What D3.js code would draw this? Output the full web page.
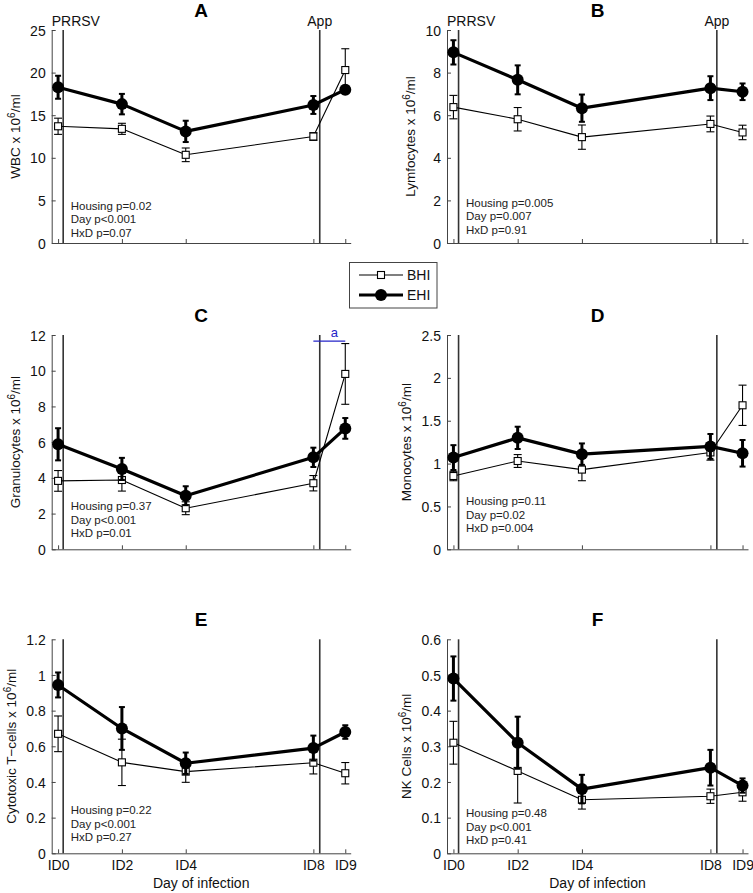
<!DOCTYPE html>
<html>
<head>
<meta charset="utf-8">
<script src="https://cdn.jsdelivr.net/npm/d3@7"></script>
<style>
  html, body { margin: 0; padding: 0; background: #fff; }
  svg { display: block; font-family: "Liberation Sans", Arial, Helvetica, sans-serif; }
</style>
</head>
<body>
<svg id="chart" width="753" height="893"></svg>
<script>
// ---------- DATA ----------
const days = [0, 2, 4, 8, 9];
const dayLabels = ["ID0", "ID2", "ID4", "ID8", "ID9"];
const seriesNames = ["BHI", "EHI"];

// WBC
const wbcBHI = [13.7, 13.4, 10.35, 12.5, 20.3];
const wbcBHIse = [0.95, 0.65, 0.8, 0.45, 2.5];
const wbcEHI = [18.28, 16.3, 13.1, 16.2, 18.0];
const wbcEHIse = [1.35, 1.2, 1.25, 1.05, 0.45];
const wbcTicks = [0, 5, 10, 15, 20, 25];

// Lymfocytes
const lymBHI = [6.38, 5.81, 4.97, 5.59, 5.19];
const lymBHIse = [0.55, 0.55, 0.57, 0.37, 0.34];
const lymEHI = [8.95, 7.66, 6.33, 7.27, 7.1];
const lymEHIse = [0.57, 0.68, 0.64, 0.56, 0.39];
const lymTicks = [0, 2, 4, 6, 8, 10];

// Granulocytes
const graBHI = [3.83, 3.88, 2.3, 3.7, 9.82];
const graBHIse = [0.58, 0.62, 0.36, 0.43, 1.7];
const graEHI = [5.88, 4.5, 3.0, 5.15, 6.77];
const graEHIse = [0.9, 0.62, 0.53, 0.54, 0.58];
const graTicks = [0, 2, 4, 6, 8, 10, 12];

// Monocytes
const monBHI = [0.855, 1.03, 0.93, 1.13, 1.68];
const monBHIse = [0.055, 0.075, 0.13, 0.09, 0.235];
const monEHI = [1.07, 1.30, 1.11, 1.20, 1.12];
const monEHIse = [0.145, 0.13, 0.125, 0.145, 0.155];
const monTicks = [0, 0.5, 1, 1.5, 2, 2.5];

// Cytotoxic T-cells
const cytBHI = [0.67, 0.51, 0.458, 0.508, 0.449];
const cytBHIse = [0.10, 0.13, 0.06, 0.063, 0.06];
const cytEHI = [0.944, 0.70, 0.505, 0.59, 0.68];
const cytEHIse = [0.07, 0.12, 0.06, 0.07, 0.038];
const cytTicks = [0, 0.2, 0.4, 0.6, 0.8, 1, 1.2];

// NK cells
const nkBHI = [0.31, 0.231, 0.15, 0.16, 0.171];
const nkBHIse = [0.06, 0.09, 0.026, 0.02, 0.025];
const nkEHI = [0.49, 0.31, 0.18, 0.24, 0.19];
const nkEHIse = [0.062, 0.073, 0.04, 0.05, 0.02];
const nkTicks = [0, 0.1, 0.2, 0.3, 0.4, 0.5, 0.6];

const panelLetters = ["A", "B", "C", "D", "E", "F"];
const yLabels = ["WBC x 10", "Lymfocytes x 10", "Granulocytes x 10", "Monocytes x 10", "Cytotoxic T\u2212cells x 10", "NK Cells x 10"];
const statsText = [
  ["Housing p=0.02", "Day p<0.001", "HxD p=0.07"],
  ["Housing p=0.005", "Day p=0.007", "HxD p=0.91"],
  ["Housing p=0.37", "Day p<0.001", "HxD p=0.01"],
  ["Housing p=0.11", "Day p=0.02", "HxD p=0.004"],
  ["Housing p=0.22", "Day p<0.001", "HxD p=0.27"],
  ["Housing p=0.48", "Day p<0.001", "HxD p=0.41"]
];
const eventDays = [0.16, 8.2];
const eventNames = ["PRRSV", "App"];
// significance marker panel C
const sigFrom = 8, sigTo = 9, sigLevel = 11.66, sigLabel = "a";

// ---------- LAYOUT ----------
const panels = [
  { bhi: wbcBHI, bhiSe: wbcBHIse, ehi: wbcEHI, ehiSe: wbcEHIse, ticks: wbcTicks, col: 0, row: 0, statsOff: 37 },
  { bhi: lymBHI, bhiSe: lymBHIse, ehi: lymEHI, ehiSe: lymEHIse, ticks: lymTicks, col: 1, row: 0, statsOff: 40 },
  { bhi: graBHI, bhiSe: graBHIse, ehi: graEHI, ehiSe: graEHIse, ticks: graTicks, col: 0, row: 1, statsOff: 43 },
  { bhi: monBHI, bhiSe: monBHIse, ehi: monEHI, ehiSe: monEHIse, ticks: monTicks, col: 1, row: 1, statsOff: 48 },
  { bhi: cytBHI, bhiSe: cytBHIse, ehi: cytEHI, ehiSe: cytEHIse, ticks: cytTicks, col: 0, row: 2, statsOff: 43 },
  { bhi: nkBHI, bhiSe: nkBHIse, ehi: nkEHI, ehiSe: nkEHIse, ticks: nkTicks, col: 1, row: 2, statsOff: 40 }
];
const colX = [[51.7, 350.7], [447, 748]];
const rowY = [[243, 30], [549.3, 335], [853.3, 639.3]];

const svg = d3.select("#chart");
const axisColor = "#444";
const fmt = d3.format("~g");

panels.forEach((p, i) => {
  const g = svg.append("g");
  const x = d3.scaleLinear().domain([-0.2, 9.17]).range(colX[p.col]);
  const y = d3.scaleLinear().domain([0, d3.max(p.ticks)]).range(rowY[p.row]);
  const [x0, x1] = x.range();
  const [yb, yt] = y.range();

  // axes
  const xAxis = d3.axisBottom(x).tickValues(days).tickSizeInner(-4).tickSizeOuter(0)
    .tickFormat((d, k) => p.row === 2 ? dayLabels[k] : "");
  const gx = g.append("g").attr("transform", `translate(0,${yb})`).call(xAxis);
  const yAxis = d3.axisLeft(y).tickValues(p.ticks).tickSizeInner(-4).tickSizeOuter(0).tickFormat(fmt);
  const gy = g.append("g").attr("transform", `translate(${x0},0)`).call(yAxis);
  [gx, gy].forEach(a => {
    a.select(".domain").attr("stroke", axisColor).attr("stroke-width", 1);
    a.selectAll(".tick line").attr("stroke", axisColor);
    a.selectAll(".tick text").attr("fill", "#111").style("font-size", "14px")
      .style("font-family", '"Liberation Sans", Arial, sans-serif');
  });
  gy.selectAll(".tick text").attr("x", -6).attr("dy", "0.36em");
  gx.selectAll(".tick text").attr("y", 7).attr("dy", "0.71em");

  // y label with superscript
  let maxW = 0;
  gy.selectAll(".tick text").each(function () { maxW = Math.max(maxW, this.getBBox().width); });
  const lx = x0 - 6 - maxW - 10;
  const ly = (yb + yt) / 2;
  const lab = g.append("text").attr("transform", `translate(${lx},${ly}) rotate(-90)`)
    .attr("text-anchor", "middle").attr("fill", "#111").style("font-size", "13.5px");
  lab.append("tspan").text(yLabels[i]);
  lab.append("tspan").text("6").attr("dy", -5).style("font-size", "10px");
  lab.append("tspan").text("/ml").attr("dy", 5);

  // title
  g.append("text").attr("x", (x0 + x1) / 2).attr("y", yt - 13).attr("text-anchor", "middle")
    .style("font-size", "19px").style("font-weight", "bold").attr("fill", "#000").text(panelLetters[i]);

  // event lines
  eventDays.forEach((ed, k) => {
    g.append("line").attr("x1", x(ed)).attr("x2", x(ed)).attr("y1", yt).attr("y2", yb)
      .attr("stroke", "#333").attr("stroke-width", 1.6);
    if (p.row === 0) {
      g.append("text").attr("x", k === 0 ? x0 : x(ed)).attr("y", yt - 4)
        .attr("text-anchor", k === 0 ? "start" : "middle").style("font-size", "14px").attr("fill", "#111")
        .text(eventNames[k]);
    }
  });

  // stats text
  statsText[i].forEach((t, k) => {
    g.append("text").attr("x", x0 + 19).attr("y", yb - p.statsOff + 4 + k * 13.3)
      .style("font-size", "11.5px").attr("fill", "#222").text(t);
  });

  // x-axis title
  if (p.row === 2) {
    g.append("text").attr("x", (x0 + x1) / 2).attr("y", yb + 34.5).attr("text-anchor", "middle")
      .style("font-size", "14px").attr("fill", "#111").text("Day of infection");
  }

  const line = d3.line().x((d, k) => x(days[k])).y(d => y(d));

  const drawSeries = (vals, se, thick) => {
    const sw = thick ? 3 : 1.1;
    const capW = thick ? 3 : 4;
    g.append("path").datum(vals).attr("d", line).attr("fill", "none")
      .attr("stroke", "#000").attr("stroke-width", thick ? 3.2 : 1.1).attr("stroke-linejoin", "round");
    vals.forEach((v, k) => {
      const cx = x(days[k]);
      const lo = y(v - se[k]), hi = y(v + se[k]);
      g.append("line").attr("x1", cx).attr("x2", cx).attr("y1", lo).attr("y2", hi)
        .attr("stroke", "#000").attr("stroke-width", sw);
      [lo, hi].forEach(yy => g.append("line").attr("x1", cx - capW).attr("x2", cx + capW)
        .attr("y1", yy).attr("y2", yy).attr("stroke", "#000").attr("stroke-width", thick ? 2 : 1.1));
    });
    vals.forEach((v, k) => {
      const cx = x(days[k]), cy = y(v);
      if (thick) {
        g.append("circle").attr("cx", cx).attr("cy", cy).attr("r", 6).attr("fill", "#000");
      } else {
        g.append("rect").attr("x", cx - 3.5).attr("y", cy - 3.5).attr("width", 7).attr("height", 7)
          .attr("fill", "#fff").attr("stroke", "#000").attr("stroke-width", 1.1);
      }
    });
  };
  drawSeries(p.bhi, p.bhiSe, false);
  drawSeries(p.ehi, p.ehiSe, true);

  // significance in panel C
  if (i === 2) {
    g.append("line").attr("x1", x(sigFrom)).attr("x2", x(sigTo)).attr("y1", y(sigLevel)).attr("y2", y(sigLevel))
      .attr("stroke", "#2424c8").attr("stroke-width", 1.3);
    g.append("text").attr("x", (x(sigFrom) + x(sigTo)) / 2 + 5).attr("y", y(sigLevel) - 4)
      .attr("text-anchor", "middle").style("font-size", "13px").attr("fill", "#2424c8").text(sigLabel);
  }
});

// ---------- LEGEND ----------
const leg = svg.append("g");
leg.append("rect").attr("x", 349.5).attr("y", 262.5).attr("width", 87.5).attr("height", 45.5)
  .attr("fill", "#fff").attr("stroke", "#444").attr("stroke-width", 1);
seriesNames.forEach((n, k) => {
  const yy = 275 + k * 20;
  leg.append("line").attr("x1", 359).attr("x2", 403).attr("y1", yy).attr("y2", yy)
    .attr("stroke", "#000").attr("stroke-width", k === 1 ? 3.2 : 1.1);
  if (k === 0) {
    leg.append("rect").attr("x", 381 - 3.5).attr("y", yy - 3.5).attr("width", 7).attr("height", 7)
      .attr("fill", "#fff").attr("stroke", "#000").attr("stroke-width", 1.1);
  } else {
    leg.append("circle").attr("cx", 381).attr("cy", yy).attr("r", 6).attr("fill", "#000");
  }
  leg.append("text").attr("x", 407).attr("y", yy + 5).style("font-size", "14px").attr("fill", "#111").text(n);
});
</script>
</body>
</html>
